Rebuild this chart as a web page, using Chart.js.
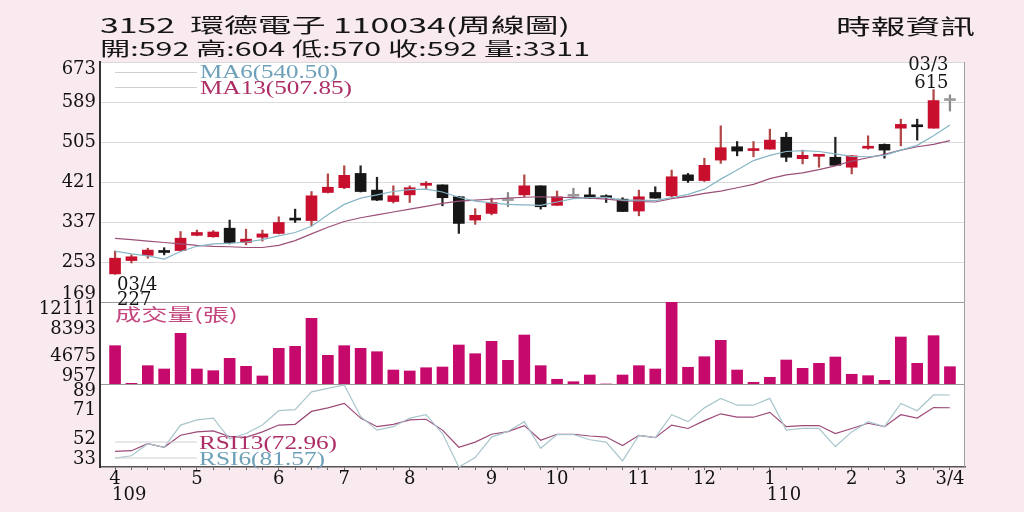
<!DOCTYPE html>
<html><head><meta charset="utf-8">
<script src="https://cdn.jsdelivr.net/npm/chart.js@4.4.1/dist/chart.umd.min.js"></script>
<style>
html,body{margin:0;padding:0;background:#f9eaf0;}
#wrap{position:relative;width:1024px;height:512px;overflow:hidden;background:#f9eaf0;}
#c{position:absolute;left:0;top:0;width:1024px;height:512px;}
.hd{position:absolute;white-space:nowrap;transform-origin:0 0;font-family:'Noto Sans CJK TC',sans-serif;color:#161616;line-height:1;}
</style></head>
<body><div id="wrap"><canvas id="c" width="1024" height="512"></canvas>
<div class="hd" id="h1" data-w="470" style="left:100px;top:15px;font-size:20px;"></div>
<div class="hd" id="h2" data-w="490" style="left:100px;top:38px;font-size:19px;"></div>
<div class="hd" id="h3" data-w="139" style="left:836px;top:15px;font-size:21px;"></div>
</div>
<script>
// ---------- header texts ----------
const stockCode = '3152';
const stockName = '環德電子';
const dateCode = '110034';
const chartKind = '周線圖';
const sourceName = '時報資訊';

// ---------- weekly candles ----------
const opens  = [228,256,267,274,277,309,306,324,294,305,313,343,340,399,409,439,404,380,394,414,415,390,341,355,382,394,413,372,391,394,390,385,360,399,392,436,424,467,495,487,490,515,470,475,473,452,492,500,534,538,534,592];
const highs  = [276,268,282,283,317,320,319,341,322,320,348,364,401,438,455,455,431,413,413,422,415,391,365,387,399,436,413,402,408,409,394,388,404,411,446,439,471,539,506,506,532,525,488,476,515,477,518,501,553,553,615,604];
const lows   = [227,251,261,268,276,308,305,291,289,297,312,336,329,398,407,400,382,377,378,406,371,313,332,352,369,390,364,372,387,386,378,359,350,387,390,420,422,460,476,474,490,464,459,452,456,438,490,471,497,509,534,570];
const closes = [261,264,278,273,303,315,316,294,301,312,336,341,392,410,435,401,383,392,409,415,388,334,351,378,382,413,369,390,391,387,388,359,390,387,432,424,456,493,486,489,509,473,477,476,456,476,494,488,542,537,592,592];
const volumes = [6170,1050,3450,3000,7850,3000,2770,4450,3360,2050,5810,6080,9890,4860,6170,5810,5350,2860,2730,3170,3270,6260,5080,6760,4180,7620,3450,1600,1270,2180,960,2180,3450,3000,12111,3230,4670,6900,2860,1190,1870,4220,3090,3770,4630,2280,2090,1460,7350,3770,7530,3311];
const ma6  = [276,270,266,259,275,286,291,292,295,300,308,315,328,352,374,387,394,401,405,406,400,389,381,377,374,373,372,379,386,388,389,383,383,382,388,395,406,427,446,466,477,485,487,485,480,475,474,477,488,498,518,540.5];
const ma13 = [302.7,300,297,294,291,288,286,285,283.5,283.5,288,298,312,326,338,346,352,358,364,370,376,381,383,385,387,389,390,389,388,387,385,382,380,379,386,391,397,402,409,416,428,436,440,447,455,465,472,479,488,495,500,507.85];
const rsi6  = [39,40.6,48.7,46.3,61.3,64.8,66,52,55.6,61.3,71,71.7,83.7,86,88.3,67.1,57.9,60.2,66,68.3,55.6,33,39.4,53.2,57,63.6,45.6,54.9,54.9,51.4,49.8,37.1,54.4,52.8,68.3,63.6,72.9,79.3,74.7,74.7,79.3,57.9,59,59,46.8,56.7,63.6,60.2,75.9,71,81.6,81.57];
const rsi13 = [43.6,44,48.7,46.3,54.4,56.7,57.4,53.5,53,56.7,61.3,61.8,70.5,72.9,75.9,66,60.2,61.8,64.8,65.2,57.9,46.3,49.8,55.1,56.9,60.9,51,55.1,55.1,53.9,53.2,47.5,54.4,52.8,61.3,59,64.3,68.9,66.6,66.6,69.9,60.2,60.9,61,55.6,59,62.5,60.2,68.3,66,73.1,72.96];

// ---------- axis ticks ----------
const priceTicks = [169,253,337,421,505,589,673];
const volTicks = [957,4675,8393,12111];
const rsiTicks = [33,52,71,89];
const monthTickIdx = [0,5,10,14,18,23,27,32,36,40,45,48,51];
const monthTickLabels = ['4','5','6','7','8','9','10','11','12','1','2','3','3/4'];
const yearTickIdx = [0,40];
const yearTickLabels = ['109','110'];
const lowMark = ['03/4', 227];
const highMark = ['03/3', 615];

// ---------- header ----------
const last = opens.length - 1;
document.getElementById('h1').textContent = stockCode + '\u00a0\u00a0' + stockName + ' ' + dateCode + '(' + chartKind + ')';
document.getElementById('h2').textContent = '開:' + opens[last] + ' 高:' + highs[last] + ' 低:' + lows[last] + ' 收:' + closes[last] + ' 量:' + volumes[last];
document.getElementById('h3').textContent = sourceName;
function fitHeader(){
  document.querySelectorAll('.hd').forEach(el => {
    el.style.transform = 'none';
    const w = el.getBoundingClientRect().width;
    el.style.transform = 'scaleX(' + (Number(el.dataset.w) / w) + ')';
  });
}
fitHeader();
if (document.fonts && document.fonts.ready) document.fonts.ready.then(fitHeader);

// ---------- colours ----------
const RED = '#c8102e', BLACK = '#161616', GRAY = '#9a9a9a';
const bodyColor = closes.map((c, i) => c > opens[i] ? RED : c < opens[i] ? BLACK : GRAY);
const wickColor = closes.map((c, i) => c > opens[i] ? '#b04848' : c < opens[i] ? '#222222' : '#8a8a8a');

const idx = opens.map((_, i) => i);
const pts = arr => arr.map((v, i) => ({x: i, y: v}));

function edgeLabel(v, i, t){
  if (i === t.length - 1) return ['', String(v)];
  if (i === 0) return [String(v), ''];
  return String(v);
}
const tickFont = {family: 'DejaVu Serif', size: 18, lineHeight: 0.85};

function drawStretched(ctx, text, x, y, targetW, font, color, align){
  ctx.save();
  ctx.font = font;
  const w = ctx.measureText(text).width;
  ctx.translate(x, y);
  ctx.scale(targetW / w, 1);
  ctx.fillStyle = color;
  ctx.textBaseline = 'alphabetic';
  ctx.textAlign = align || 'left';
  ctx.fillText(text, 0, 0);
  ctx.restore();
}

const bgPlugin = {
  id: 'bg',
  beforeDraw(chart){
    const {ctx, chartArea: a} = chart;
    ctx.save();
    ctx.fillStyle = '#ffffff';
    ctx.fillRect(a.left, a.top, a.right - a.left, a.bottom - a.top);
    ctx.restore();
  }
};

const overlayPlugin = {
  id: 'overlay',
  afterDatasetsDraw(chart){
    const {ctx, chartArea: a, scales} = chart;
    const xs = scales.x, yp = scales.yPrice, yv = scales.yVol, yr = scales.yRsi;
    ctx.save();
    // right frame
    ctx.strokeStyle = '#a0a0a0'; ctx.lineWidth = 1;
    ctx.beginPath(); ctx.moveTo(a.right - 0.5, a.top); ctx.lineTo(a.right - 0.5, a.bottom); ctx.stroke();
    // legend leader lines
    ctx.strokeStyle = '#cfcfcf'; ctx.lineWidth = 1;
    const lead = (y) => { ctx.beginPath(); ctx.moveTo(a.left + 15, y); ctx.lineTo(a.left + 97, y); ctx.stroke(); };
    lead(yp.top + 10.5); lead(yp.top + 25.5);
    lead(yr.top + 58); lead(yr.top + 74);
    ctx.restore();
    const serif = '19px "Liberation Serif"';
    drawStretched(ctx, 'MA6(' + ma6[last].toFixed(2) + ')', a.left + 100, yp.top + 16, 138, serif, '#6ea0b9');
    drawStretched(ctx, 'MA13(' + ma13[last].toFixed(2) + ')', a.left + 100, yp.top + 32, 152, serif, '#ad2d66');
    drawStretched(ctx, 'RSI13(' + rsi13[last].toFixed(2) + ')', a.left + 99, yr.top + 65, 138, serif, '#ad2d66');
    drawStretched(ctx, 'RSI6(' + rsi6[last].toFixed(2) + ')', a.left + 99, yr.top + 81, 126, serif, '#6ea0b9');
    drawStretched(ctx, '成交量(張)', a.left + 15, yv.top + 19, 123, '17px "Noto Sans CJK TC"', '#c4487f');
    // low / high marks
    ctx.save();
    ctx.font = '18px "DejaVu Serif"';
    ctx.fillStyle = '#141414';
    ctx.textBaseline = 'alphabetic';
    const li = lows.indexOf(lowMark[1]);
    const lx = xs.getPixelForValue(li) + 2, ly = yp.getPixelForValue(lowMark[1]);
    ctx.textAlign = 'left';
    ctx.fillText(lowMark[0], lx, ly + 15.6);
    ctx.fillText(String(lowMark[1]), lx, ly + 30.6);
    const hi = highs.indexOf(highMark[1]);
    const hx = xs.getPixelForValue(hi) + 15, hy = yp.getPixelForValue(highMark[1]);
    ctx.textAlign = 'right';
    ctx.fillText(highMark[0], hx, hy - 19.6);
    ctx.fillText(String(highMark[1]), hx, hy - 1.6);
    // year labels under month ticks
    ctx.textAlign = 'left';
    yearTickIdx.forEach((k, j) => ctx.fillText(yearTickLabels[j], xs.getPixelForValue(k) - 3, 500));
    ctx.restore();
  }
};

new Chart(document.getElementById('c'), {
  type: 'bar',
  data: {
    datasets: [
      {type: 'line', label: 'MA6', data: pts(ma6), yAxisID: 'yPrice', borderColor: '#86b6c6', borderWidth: 1.2, pointRadius: 0, tension: 0, order: 0},
      {type: 'line', label: 'MA13', data: pts(ma13), yAxisID: 'yPrice', borderColor: '#9c5079', borderWidth: 1.2, pointRadius: 0, tension: 0, order: 0},
      {type: 'bar', label: 'body', data: idx.map(i => ({x: i, y: [opens[i], closes[i]]})), yAxisID: 'yPrice', backgroundColor: bodyColor, borderWidth: 0, barThickness: 11, minBarLength: 2, grouped: false, order: 1},
      {type: 'bar', label: 'wick', data: idx.map(i => ({x: i, y: [lows[i], highs[i]]})), yAxisID: 'yPrice', backgroundColor: wickColor, borderWidth: 0, barThickness: 1.6, grouped: false, order: 2},
      {type: 'bar', label: '成交量', data: pts(volumes), yAxisID: 'yVol', backgroundColor: '#c50a6c', borderWidth: 0, barThickness: 11, grouped: false, order: 3},
      {type: 'line', label: 'RSI6', data: pts(rsi6), yAxisID: 'yRsi', borderColor: '#a9c6cc', borderWidth: 1.2, pointRadius: 0, tension: 0, order: 0},
      {type: 'line', label: 'RSI13', data: pts(rsi13), yAxisID: 'yRsi', borderColor: '#9c4a78', borderWidth: 1.2, pointRadius: 0, tension: 0, order: 0}
    ]
  },
  options: {
    responsive: false,
    animation: false,
    devicePixelRatio: 1,
    layout: {padding: {top: 62, right: 59, bottom: 0, left: 0}},
    plugins: {legend: {display: false}, tooltip: {enabled: false}},
    scales: {
      x: {
        type: 'linear', position: 'bottom', min: -0.92, max: 51.92, offset: false,
        afterBuildTicks: s => { s.ticks = idx.map(i => ({value: i})); },
        afterFit: s => { s.height = 45; },
        grid: {display: true, drawOnChartArea: false, drawTicks: true, tickLength: 3, color: '#666', offset: false},
        border: {display: true, color: '#555', width: 1.5},
        ticks: {autoSkip: false, maxRotation: 0, minRotation: 0, padding: -1, color: '#111',
          font: {family: 'DejaVu Serif', size: 18},
          callback: v => { const k = monthTickIdx.indexOf(v); return k >= 0 ? monthTickLabels[k] : ''; }}
      },
      yPrice: {
        type: 'linear', position: 'left', stack: 'panels', stackWeight: 240, weight: 3, min: 169, max: 673,
        afterBuildTicks: s => { s.ticks = priceTicks.map(v => ({value: v})); },
        afterFit: s => { s.width = 100; },
        grid: {drawTicks: false, color: c => (c.tick && c.tick.value === priceTicks[0]) ? '#9a9a9a' : '#dadada'},
        border: {display: true, color: '#333', width: 2},
        ticks: {autoSkip: false, padding: 4, color: '#111', font: tickFont, callback: edgeLabel}
      },
      yVol: {
        type: 'linear', position: 'left', stack: 'panels', stackWeight: 82, weight: 2, min: volTicks[0], max: volTicks[volTicks.length - 1],
        afterBuildTicks: s => { s.ticks = volTicks.map(v => ({value: v})); },
        afterFit: s => { s.width = 100; },
        grid: {drawTicks: false, color: c => (c.tick && c.tick.value === volTicks[0]) ? '#9a9a9a' : 'rgba(0,0,0,0)'},
        border: {display: true, color: '#333', width: 2},
        ticks: {autoSkip: false, padding: 4, color: '#111', font: tickFont, callback: edgeLabel}
      },
      yRsi: {
        type: 'linear', position: 'left', stack: 'panels', stackWeight: 83, weight: 1, min: rsiTicks[0], max: rsiTicks[rsiTicks.length - 1],
        afterBuildTicks: s => { s.ticks = rsiTicks.map(v => ({value: v})); },
        afterFit: s => { s.width = 100; },
        grid: {display: false, drawTicks: false},
        border: {display: true, color: '#333', width: 2},
        ticks: {autoSkip: false, padding: 4, color: '#111', font: tickFont, callback: edgeLabel}
      }
    }
  },
  plugins: [bgPlugin, overlayPlugin]
});
</script>
</body></html>
